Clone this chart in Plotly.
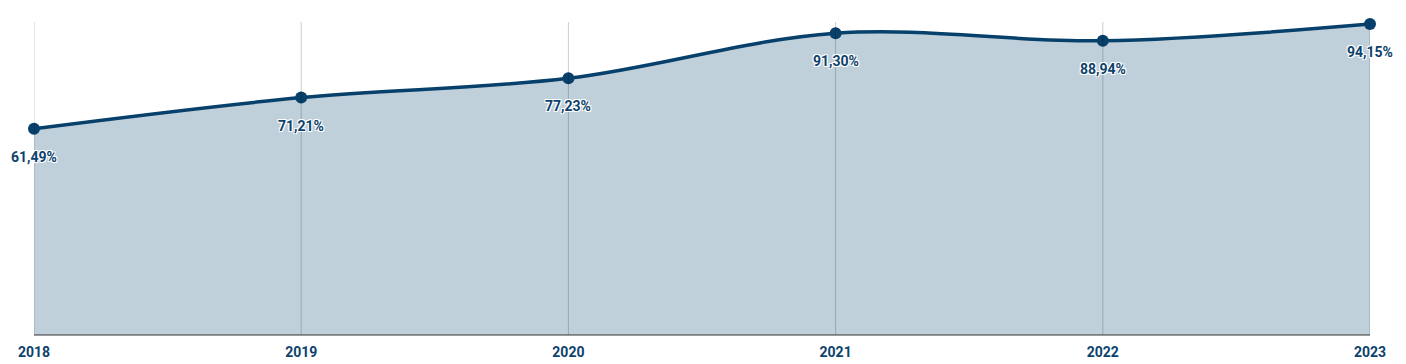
import plotly.graph_objects as go

years = [2018, 2019, 2020, 2021, 2022, 2023]
values = [61.49, 71.21, 77.23, 91.30, 88.94, 94.15]
labels = ["61,49%", "71,21%", "77,23%", "91,30%", "88,94%", "94,15%"]

Y_MIN = -2.9
Y_MAX = 94.8
LINE = "#07406a"
FILL = "#c0d0db"
TXT = "#0c426b"

fig = go.Figure()
fig.add_trace(go.Scatter(x=years, y=[Y_MIN] * len(years), mode="lines",
                         line=dict(width=0), hoverinfo="skip", showlegend=False))
fig.add_trace(go.Scatter(x=years, y=values, mode="lines+markers",
                         line=dict(color=LINE, width=3.5, shape="spline"),
                         marker=dict(color=LINE, size=12),
                         fill="tonexty", fillcolor=FILL, showlegend=False,
                         cliponaxis=False))

for x in years:
    fig.add_shape(type="line", xref="x", yref="paper", x0=x, x1=x, y0=0, y1=1,
                  line=dict(color="rgba(0,0,0,0.2)", width=1), layer="above")

for x, y, t in zip(years, values, labels):
    fig.add_annotation(x=x, y=y, text=f"<b>{t}</b>", showarrow=False, yshift=-28,
                       font=dict(family="Roboto", size=14, color=TXT,
                                 shadow="1px 1px 0 white, -1px -1px 0 white, 1px -1px 0 white, -1px 1px 0 white"))

fig.update_layout(
    width=1406, height=364,
    margin=dict(l=34, r=36, t=22, b=29, autoexpand=False),
    paper_bgcolor="white", plot_bgcolor="white",
    font=dict(family="Roboto"),
    xaxis=dict(range=[2018, 2023], tickvals=years,
               ticktext=[f"<b>{y}</b>" for y in years],
               tickfont=dict(size=14, color=TXT),
               showgrid=False, automargin=False,
               zeroline=False, showline=False, ticks="outside", ticklen=4,
               tickcolor="rgba(0,0,0,0)"),
    yaxis=dict(range=[Y_MIN, Y_MAX], showgrid=False, zeroline=False,
               showticklabels=False, showline=False, automargin=False),
)
fig.add_shape(type="line", xref="paper", yref="paper", x0=0, x1=1, y0=0, y1=0,
              line=dict(color="#333333", width=1.2), layer="above")
fig.write_html("out.html", config={"displayModeBar": False},
               post_script="document.body.style.margin='0';document.body.style.overflow='hidden';")
